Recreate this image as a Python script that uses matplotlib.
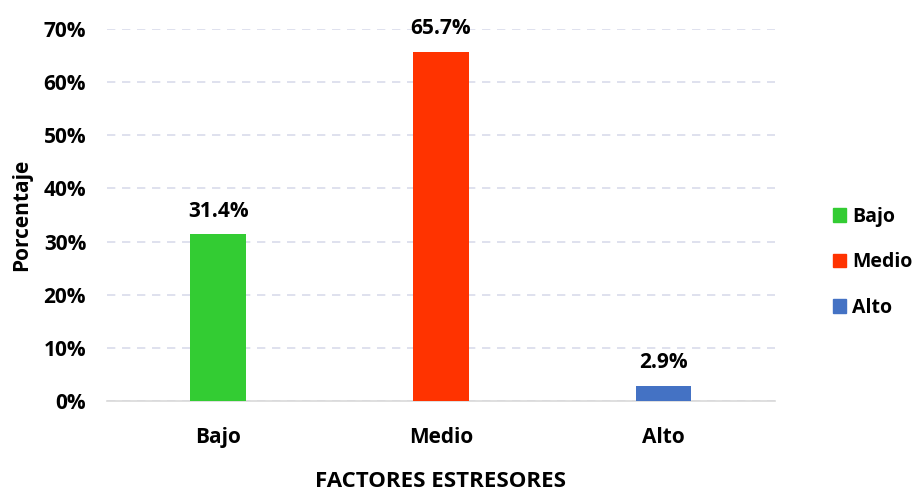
import matplotlib.pyplot as plt
from matplotlib.ticker import PercentFormatter
from matplotlib.patches import Patch

plt.rcParams['font.family'] = ['Open Sans', 'DejaVu Sans']
plt.rcParams['font.weight'] = 'bold'

categorias = ['Bajo', 'Medio', 'Alto']
porcentajes = [31.4, 65.7, 2.9]
colores = ['#33CC33', '#FF3300', '#4472C4']
yticks = [0, 10, 20, 30, 40, 50, 60, 70]

fig = plt.figure(figsize=(9.2, 4.92), dpi=100)
ax = fig.add_axes([0.1163, 0.185, 0.7257, 0.756])

x = range(len(categorias))
ax.bar(x, porcentajes, width=0.25, color=colores, zorder=3)

for i, v in enumerate(porcentajes):
    ax.annotate(f'{v:.1f}%', (i, v), xytext=(0, 9), textcoords='offset points',
                ha='center', va='bottom', fontsize=15, fontweight='bold')

ax.set_xlim(-0.5, 2.5)
ax.set_ylim(0, 70)
ax.set_yticks(yticks)
ax.yaxis.set_major_formatter(PercentFormatter(decimals=0))
ax.set_xticks(list(x))
ax.set_xticklabels(categorias)
ax.tick_params(axis='both', length=0, labelsize=15)
ax.tick_params(axis='x', pad=19)
ax.tick_params(axis='y', pad=15)

ax.grid(axis='y', color='#D9DCEB', linestyle=(0, (5, 4)), linewidth=1.2, zorder=0)
for s in ['top', 'right', 'left']:
    ax.spines[s].set_visible(False)
ax.spines['bottom'].set_color('#D9D9D9')
ax.spines['bottom'].set_linewidth(1.2)

ax.set_ylabel('Porcentaje', fontsize=15, fontweight='bold', labelpad=8)
ax.set_xlabel('FACTORES ESTRESORES', fontsize=16, fontweight='bold', labelpad=16)

handles = [Patch(color=c, label=l) for c, l in zip(colores, categorias)]
fig.legend(handles=handles, loc='center left', bbox_to_anchor=(0.905, 0.467),
           frameon=False, fontsize=14, handlelength=0.7, handleheight=0.7,
           handletextpad=0.3, labelspacing=1.3, borderaxespad=0, borderpad=0)

fig.savefig('out.png', dpi=100)
